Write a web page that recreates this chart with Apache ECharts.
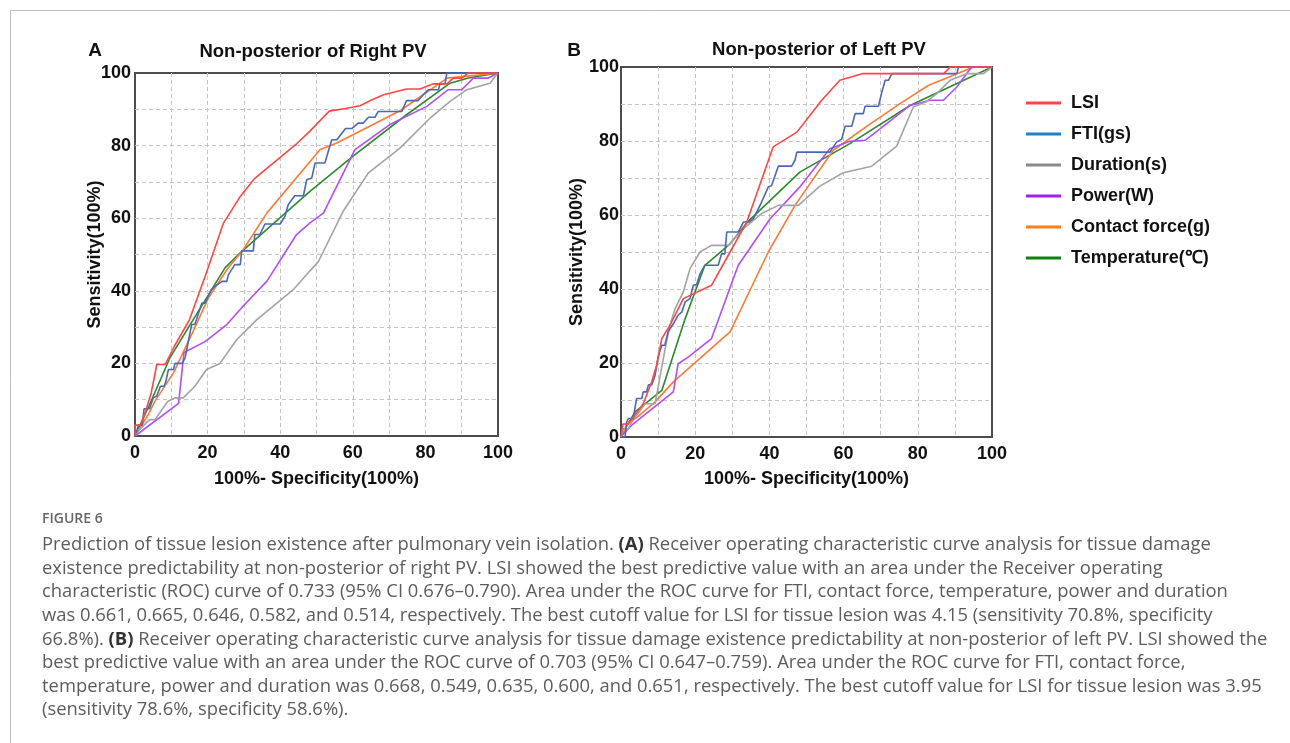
<!DOCTYPE html>
<html>
<head>
<meta charset="utf-8">
<script src="https://cdn.jsdelivr.net/npm/echarts@6/dist/echarts.min.js"></script>
<style>
  html, body { margin: 0; padding: 0; background: #fff; }
  #main { width: 1290px; height: 743px; }
</style>
</head>
<body>
<div id="main"></div>
<script>
// ---- data: [1 - specificity, sensitivity] in % ----
var seriesNames = ['LSI', 'FTI(gs)', 'Duration(s)', 'Power(W)', 'Contact force(g)', 'Temperature(℃)'];
var tickValues = [0, 20, 40, 60, 80, 100];

// panel A - non-posterior of right PV
var lsiA = [[0,0],[0,3],[1.5,3],[3,7],[4.5,12],[6,19.7],[8.3,19.7],[11,25],[15,32],[19.5,44.5],[24.3,58.5],[29,66],[33,71],[44.5,80.5],[48.2,84],[53.5,89.5],[58,90.2],[62,91],[65,92.5],[68.5,94],[74.8,95.6],[78.5,95.6],[82,97],[85.9,97],[87.7,98.6],[90,98.6],[91.8,100],[100,100]];
var ftiA = [[0,0],[0.5,0.5],[1,3],[2,3],[2.5,7.5],[4,7.5],[5,10.5],[6,11],[7,13.7],[8,13.7],[8.5,15],[9.2,18.3],[10.6,18.3],[11,20],[13,20],[13.8,21.5],[15.6,30.7],[16.5,30.7],[18.4,36.6],[19.3,36.6],[21,40.3],[22,41.2],[24,42.6],[25.3,42.6],[25.7,44.4],[27.5,47.2],[29,47.2],[29.4,51],[32.6,51],[33,55.5],[34.4,55.5],[35.8,58.4],[40,58.4],[41.3,60.5],[42.2,63.7],[44,66.2],[46.4,66.2],[47.3,70.6],[48.7,71.1],[49.6,75.2],[52.3,75.2],[54.2,81.6],[55.6,81.6],[58,84.7],[59.7,84.7],[61.5,86.2],[62.9,86.2],[64.3,87.8],[66.1,87.8],[67,89.4],[73.5,89.4],[74.8,92.4],[78,92.4],[79.4,94],[80.8,95.4],[83.6,95.4],[84,97],[85.4,97],[85.9,100],[100,100]];
var durA = [[0,0],[1,1.5],[4,4.5],[5.5,4.5],[9,9.5],[11,10.5],[13.3,10.5],[16.5,13.7],[19.7,18.3],[23.4,20],[28,26.5],[33.5,32],[38,35.7],[43.6,40.3],[48.2,45.5],[50.5,48],[57.4,62],[64.3,72.5],[73,79.3],[81.3,87.6],[86.8,92.2],[91.4,95.4],[97.8,97.2],[100,100]];
var powA = [[0,0],[0.5,0.5],[12,9],[13.5,23],[19.3,26],[25.3,30.7],[30,36],[36.3,42.6],[44.5,55.5],[48.2,58.7],[51.9,61.4],[60.6,78.9],[70.2,85.8],[80.4,90.8],[86.3,95.4],[90,95.4],[93.2,98.6],[97.3,98.6],[100,100]];
var cfA  = [[0,0],[0.5,0.5],[3.7,6],[5.5,9.6],[10.6,17.4],[16,28.8],[20.2,38],[25.3,45.8],[29.8,51.3],[36.3,61.4],[51,78.9],[55.6,80.7],[73,89.6],[86,98.6],[100,100]];
var tmpA = [[0,0],[0.5,0.5],[4,8.6],[9.6,21.5],[15.2,30.7],[24.8,46.3],[28.9,50.4],[48.2,67.4],[60,77],[74.8,88.5],[86.8,97.2],[91.8,98.6],[100,100]];

// panel B - non-posterior of left PV
var lsiB = [[0,0],[0.5,3.5],[2,3.5],[6,9],[8.3,15],[9.6,19.4],[11,26.6],[13.2,30.2],[16.8,37.4],[24.4,41],[29.4,50],[33.9,58.1],[41,78.4],[47.4,82.4],[50.9,86.9],[54.1,91],[59,96.4],[65,98.2],[87,98.2],[88.7,100],[100,100]];
var ftiB = [[0,0],[1.1,0],[1.5,4],[2,5],[3.3,5],[4.2,10.4],[5.6,10.4],[6,12.2],[6.9,12.2],[7.4,14.1],[8.3,14.1],[9.2,16.7],[10.1,22.1],[11,24.8],[11.8,24.8],[12.7,28.4],[14.1,30.6],[15.4,32.9],[16.4,33.8],[17.3,36.5],[18.6,37.4],[19.5,41],[20.4,41.2],[21.3,44.1],[22.6,46.4],[26.2,46.4],[27.1,49.5],[28,49.5],[28.5,55.4],[31.6,55.4],[33,58.1],[34.5,58.1],[35.7,59],[37.9,63.5],[39.7,67.6],[40.6,68],[42.4,73.2],[46,73.2],[46.9,74.8],[47.4,77],[56.3,77],[58.1,79.7],[59.5,80.5],[60.4,84],[62.2,84],[63.1,87.4],[65.3,87.4],[65.8,89.4],[69.4,89.4],[70.3,93.2],[71.2,96.4],[72.1,96.4],[73,98.2],[90.5,98.2],[91,100],[100,100]];
var durB = [[0,0],[0.6,2.2],[2,2.2],[2.9,4],[6.5,9],[9.2,9],[10.5,16.2],[11.9,23.9],[13.2,30.2],[14.6,34.7],[16.8,39.2],[18.6,45.5],[21.3,50],[24.4,51.8],[28.9,51.8],[33,56.3],[37.9,60.4],[42.4,62.6],[47.8,62.6],[53.6,67.8],[59.9,71.4],[67.6,73.2],[74.3,78.6],[78.8,89.2],[82.4,90.7],[85.1,92.8],[88.7,96.4],[93.2,98.2],[97.7,98.2],[100,100]];
var powB = [[0,0],[1.1,1.4],[2.9,3.2],[14.1,12.2],[15.4,19.8],[18.1,21.6],[24.4,26.6],[31.6,46.4],[40.2,59],[48.2,67.6],[56.3,77.9],[61.7,79.9],[65.8,80.2],[69.8,83.3],[77.9,89.6],[83.3,91],[86.9,91],[90.5,94.6],[94.5,100],[100,100]];
var cfB  = [[0,0],[2,4],[3.8,4.9],[9.2,9.5],[14.1,14.9],[29.4,28.4],[39.7,50],[46.9,62.6],[57.2,77.5],[66.6,84.2],[75.2,90.1],[82.8,95],[95,100],[100,100]];
var tmpB = [[0,0],[0.6,1.4],[3.8,6.8],[11,12.6],[17.3,32],[22.6,46.4],[29.4,52.2],[34,58],[48.2,71.6],[61.7,79.3],[77.9,89.6],[100,100]];

var lineColors   = ['#ff4646', '#4a68b8', '#a3a3a3', '#b24dff', '#ff7a33', '#2b8a2b'];
var legendColors = ['#ff4646', '#1f7fc8', '#8a8a8a', '#a020f0', '#ff7f1a', '#118011'];

var captionLines = [
  'Prediction of tissue lesion existence after pulmonary vein isolation. {b|(A)} Receiver operating characteristic curve analysis for tissue damage',
  'existence predictability at non-posterior of right PV. LSI showed the best predictive value with an area under the Receiver operating',
  'characteristic (ROC) curve of 0.733 (95% CI 0.676–0.790). Area under the ROC curve for FTI, contact force, temperature, power and duration',
  'was 0.661, 0.665, 0.646, 0.582, and 0.514, respectively. The best cutoff value for LSI for tissue lesion was 4.15 (sensitivity 70.8%, specificity',
  '66.8%). {b|(B)} Receiver operating characteristic curve analysis for tissue damage existence predictability at non-posterior of left PV. LSI showed the',
  'best predictive value with an area under the ROC curve of 0.703 (95% CI 0.647–0.759). Area under the ROC curve for FTI, contact force,',
  'temperature, power and duration was 0.668, 0.549, 0.635, 0.600, and 0.651, respectively. The best cutoff value for LSI for tissue lesion was 3.95',
  '(sensitivity 78.6%, specificity 58.6%).'
];

var FONT = '"Liberation Sans", Arial, sans-serif';
var CAP_FONT = '"Open Sans", sans-serif';

function makeAxis(idx, isX, labelMargin, nameGap) {
  return {
    type: 'value', gridIndex: idx, min: 0, max: 100, interval: 10,
    axisLine: { show: false },
    axisTick: { show: false },
    splitLine: { show: true, showMinLine: false, showMaxLine: false,
                 lineStyle: { color: '#c4c4c4', type: [4, 3], width: 1 } },
    axisLabel: {
      color: '#111', fontSize: 18, fontWeight: 'bold', fontFamily: FONT, margin: labelMargin,
      formatter: function (v) { return tickValues.indexOf(v) >= 0 ? String(v) : ''; }
    },
    name: isX ? '100%- Specificity(100%)' : 'Sensitivity(100%)',
    nameLocation: 'middle', nameGap: nameGap, nameMoveOverlap: false,
    nameTextStyle: { color: '#111', fontSize: 18, fontWeight: 'bold', fontFamily: FONT }
  };
}

var panels = [[lsiA, ftiA, durA, powA, cfA, tmpA], [lsiB, ftiB, durB, powB, cfB, tmpB]];
var series = [];
panels.forEach(function (sets, gi) {
  sets.forEach(function (d, si) {
    series.push({
      name: seriesNames[si], type: 'line', xAxisIndex: gi, yAxisIndex: gi,
      data: d, symbol: 'none', clip: false,
      lineStyle: { width: 1.6, color: lineColors[si] },
      itemStyle: { color: lineColors[si] },
      z: 10 - si
    });
  });
});

function txt(x, y, text, size, align, extra) {
  var st = { text: text, x: x, y: y, fontSize: size, fontWeight: 'bold', fontFamily: FONT,
             fill: '#111', textAlign: align, textVerticalAlign: 'middle' };
  for (var k in extra) st[k] = extra[k];
  return { type: 'text', style: st, z: 50 };
}

var graphics = [
  { type: 'polyline', shape: { points: [[10.5, 743], [10.5, 10.5], [1290, 10.5]] },
    style: { stroke: '#bdbdbd', lineWidth: 1, fill: null } },
  txt(95, 51, 'A', 19, 'center'),
  txt(313, 52, 'Non-posterior of Right PV', 18.5, 'center'),
  txt(574, 51, 'B', 19, 'center'),
  txt(819, 50, 'Non-posterior of Left PV', 18.5, 'center'),
  txt(42, 519, 'FIGURE 6', 14, 'left', { fill: '#666', fontFamily: CAP_FONT, fontWeight: 600 })
];
captionLines.forEach(function (line, i) {
  graphics.push({
    type: 'text', z: 50,
    style: {
      text: line, x: 42, y: 545 + i * 23.6, fontSize: 18.4, fontFamily: CAP_FONT,
      fill: '#5c5c5c', textAlign: 'left', textVerticalAlign: 'middle',
      rich: { b: { fontSize: 18.4, fontWeight: 'bold', fontFamily: CAP_FONT, fill: '#333' } }
    }
  });
});

var chart = echarts.init(document.getElementById('main'));
chart.setOption({
  animation: false,
  backgroundColor: '#fff',
  grid: [
    { left: 135, top: 73, width: 363, height: 363, show: true, borderColor: '#4d4d4d', borderWidth: 2, backgroundColor: 'transparent' },
    { left: 621, top: 67, width: 371, height: 370, show: true, borderColor: '#4d4d4d', borderWidth: 2, backgroundColor: 'transparent' }
  ],
  xAxis: [makeAxis(0, true, 8, 34), makeAxis(1, true, 8, 33)],
  yAxis: [makeAxis(0, false, 4, 31), makeAxis(1, false, 2, 35)],
  legend: {
    orient: 'vertical', left: 1021, top: 88,
    icon: 'rect', itemWidth: 35, itemHeight: 3, itemGap: 11,
    textStyle: { color: '#111', fontSize: 18, fontWeight: 'bold', fontFamily: FONT, lineHeight: 20, padding: [0, 0, 0, 5] },
    data: seriesNames.map(function (n, i) {
      return { name: n, itemStyle: { color: legendColors[i] } };
    })
  },
  series: series,
  graphic: graphics
});
</script>
</body>
</html>
